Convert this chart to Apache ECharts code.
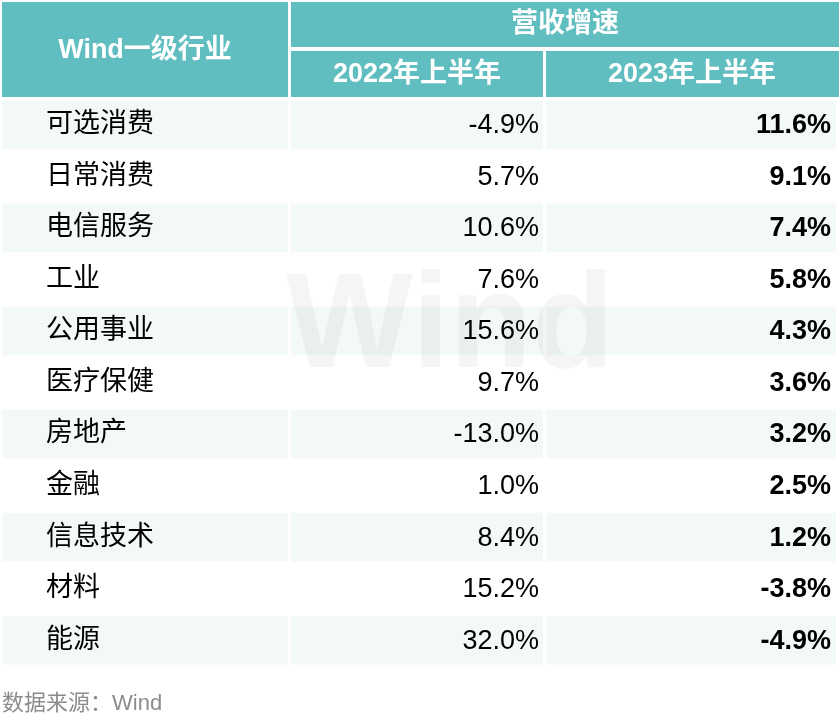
<!DOCTYPE html>
<html><head><meta charset="utf-8">
<script src="https://cdn.jsdelivr.net/npm/echarts@6/dist/echarts.min.js"></script>
<style>html,body{margin:0;background:#fff}#c{width:840px;height:724px}</style>
</head><body><div id="c"></div>
<script>
var industries = ['可选消费','日常消费','电信服务','工业','公用事业','医疗保健','房地产','金融','信息技术','材料','能源'];
var growth2022 = [-4.9, 5.7, 10.6, 7.6, 15.6, 9.7, -13.0, 1.0, 8.4, 15.2, 32.0];
var growth2023 = [11.6, 9.1, 7.4, 5.8, 4.3, 3.6, 3.2, 2.5, 1.2, -3.8, -4.9];
var headers = ['Wind一级行业', '营收增速', '2022年上半年', '2023年上半年'];
var source = '数据来源：Wind';

var TEAL = '#60bec0';
var CJK = '"Liberation Sans", "Noto Sans CJK SC", sans-serif';
var NUM = '"Liberation Sans", Arial, sans-serif';
var colX = [2, 291, 546, 839]; // column edges

var chart = echarts.init(document.getElementById('c'));

var data = industries.map(function (name, i) {
  return [i, i, growth2022[i], growth2023[i]];
});

function renderRow(params, api) {
  var i = api.value(0);
  var band = api.size([0, 1])[1];
  var yc = api.coord([0, i])[1];
  var top = yc - band / 2 + 1.5, h = band - 3;
  var fill = i % 2 === 0 ? '#f3f8f8' : '#ffffff';
  var kids = [];
  for (var c = 0; c < 3; c++) {
    kids.push({ type: 'rect', shape: { x: colX[c], y: top, width: colX[c + 1] - colX[c] - 3, height: h }, style: { fill: fill } });
  }
  kids.push({ type: 'text', style: { x: 46, y: yc, text: industries[i], font: '27px ' + CJK, fill: '#000', textVerticalAlign: 'middle' } });
  kids.push({ type: 'text', style: { x: 539, y: yc + 1, text: api.value(2).toFixed(1) + '%', font: '27px ' + NUM, fill: '#000', textAlign: 'right', textVerticalAlign: 'middle' } });
  kids.push({ type: 'text', style: { x: 831, y: yc + 1, text: api.value(3).toFixed(1) + '%', font: 'bold 27px ' + NUM, fill: '#000', textAlign: 'right', textVerticalAlign: 'middle' } });
  return { type: 'group', children: kids };
}

chart.setOption({
  animation: false,
  grid: { left: 0, right: 0, top: 99, bottom: 58 },
  xAxis: { type: 'value', min: 0, max: 1, show: false },
  yAxis: { type: 'category', data: industries, inverse: true, show: false },
  graphic: [
    { type: 'rect', shape: { x: 2, y: 2, width: 286, height: 95 }, style: { fill: TEAL } },
    { type: 'rect', shape: { x: 291, y: 2, width: 548, height: 45 }, style: { fill: TEAL } },
    { type: 'rect', shape: { x: 291, y: 51, width: 252, height: 46 }, style: { fill: TEAL } },
    { type: 'rect', shape: { x: 546, y: 51, width: 293, height: 46 }, style: { fill: TEAL } },
    { type: 'text', style: { x: 145, y: 51, text: headers[0], font: 'bold 27px ' + CJK, fill: '#fff', textAlign: 'center', textVerticalAlign: 'middle' } },
    { type: 'text', style: { x: 565, y: 25, text: headers[1], font: 'bold 27px ' + CJK, fill: '#fff', textAlign: 'center', textVerticalAlign: 'middle' } },
    { type: 'text', style: { x: 417, y: 75, text: headers[2], font: 'bold 27px ' + CJK, fill: '#fff', textAlign: 'center', textVerticalAlign: 'middle' } },
    { type: 'text', style: { x: 692, y: 75, text: headers[3], font: 'bold 27px ' + CJK, fill: '#fff', textAlign: 'center', textVerticalAlign: 'middle' } },
    { type: 'text', z: 10, style: { x: 450, y: 330, text: 'Wind', font: 'bold 135px ' + NUM, fill: 'rgba(0,0,0,0.04)', textAlign: 'center', textVerticalAlign: 'middle' } },
    { type: 'text', style: { x: 2, y: 704, text: source, font: '22px ' + CJK, fill: '#8c8c8c', textVerticalAlign: 'middle' } }
  ],
  series: [{ type: 'custom', renderItem: renderRow, data: data }]
});
</script></body></html>
